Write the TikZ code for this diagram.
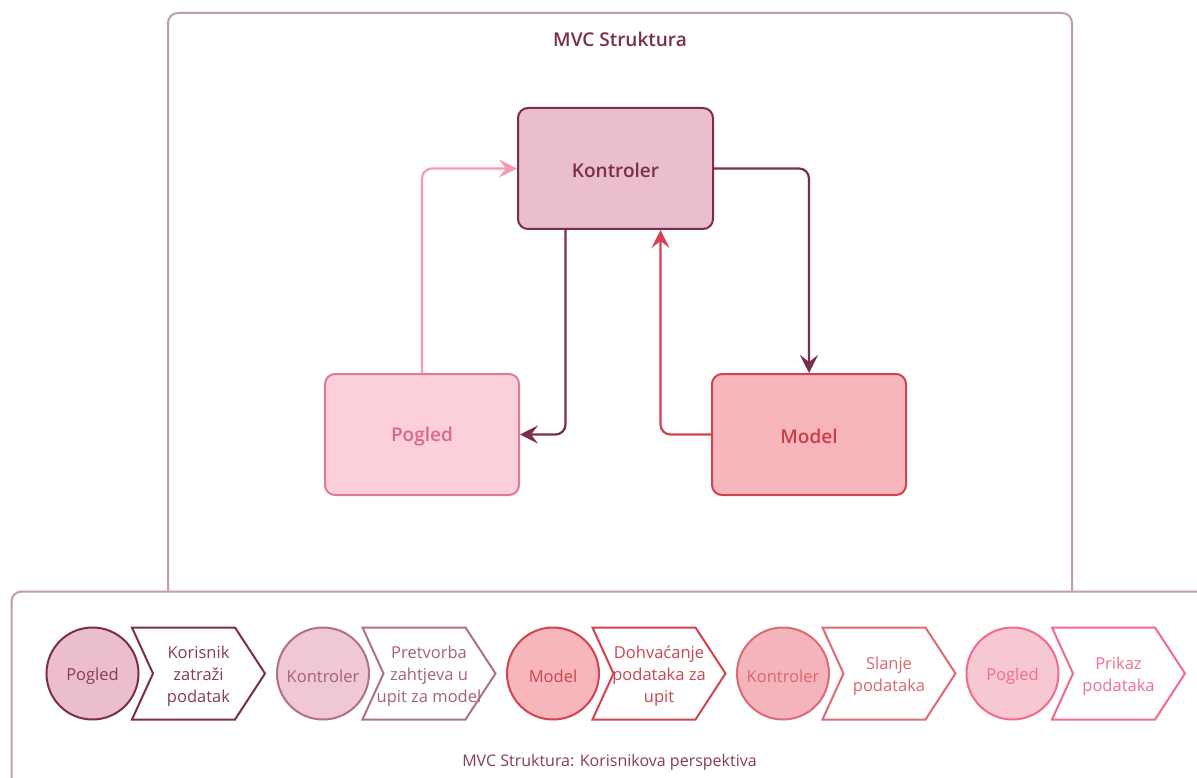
\documentclass[tikz,border=0pt]{standalone}
\usepackage{fontspec}
\setmainfont{Open Sans}
\IfFontExistsTF{Open Sans SemiBold}{\newfontfamily\sbfont{Open Sans SemiBold}}{%
  \IfFontExistsTF{Open Sans Semibold}{\newfontfamily\sbfont{Open Sans Semibold}}{\newcommand\sbfont{\bfseries}}}
\usetikzlibrary{arrows.meta}
\definecolor{dark}{HTML}{7B2D4E}
\definecolor{konfill}{HTML}{EBBECD}
\definecolor{pogfill}{HTML}{FBD0DA}
\definecolor{pogdraw}{HTML}{DE7A95}
\definecolor{pogtext}{HTML}{D9698B}
\definecolor{modfill}{HTML}{F7B6BB}
\definecolor{moddraw}{HTML}{D1434F}
\definecolor{modtext}{HTML}{CC3D48}
\definecolor{pinkarrow}{HTML}{F89AAE}
\definecolor{framecol}{HTML}{C19CAA}
\definecolor{capcol}{HTML}{8A3A5C}
\definecolor{cfA}{HTML}{EBBECD}\definecolor{csA}{HTML}{7B2D4E}\definecolor{ctA}{HTML}{8A3A5C}
\definecolor{cfB}{HTML}{EFC7D5}\definecolor{csB}{HTML}{B0708C}\definecolor{ctB}{HTML}{A4607E}
\definecolor{cfC}{HTML}{F7B6BB}\definecolor{csC}{HTML}{D1434F}\definecolor{ctC}{HTML}{CC4450}
\definecolor{cfD}{HTML}{F3B5BB}\definecolor{csD}{HTML}{DD6A74}\definecolor{ctD}{HTML}{DE6670}
\definecolor{cfE}{HTML}{F6C8D2}\definecolor{csE}{HTML}{F26B8B}\definecolor{ctE}{HTML}{F0708E}
\tikzset{
  frame/.style={draw=framecol, line width=2pt, rounded corners=10pt},
  mbox/.style={rectangle, rounded corners=10pt, line width=2pt, inner sep=0pt,
    minimum width=194pt, minimum height=121pt, font=\fontsize{19}{23}\selectfont\sbfont},
  boxlabel/.style={inner sep=0pt, font=\fontsize{19}{23}\selectfont\sbfont},
  conn/.style={line width=2.2pt, rounded corners=10pt,
    -{Stealth[length=18pt,width=18pt,inset=7pt]}},
  circ/.style={circle, line width=2pt, minimum size=92pt, inner sep=0pt,
    font=\fontsize{16.5}{22}\selectfont},
  chevron/.style={line width=2pt, fill=white, line join=miter},
  chevtext/.style={align=center, inner sep=0pt, font=\fontsize{16.5}{22}\selectfont},
}
\begin{document}
\begin{tikzpicture}[x=1pt,y=-1pt]
\useasboundingbox (0,0) rectangle (1197,778);
\clip (0,0) rectangle (1197,778);
\fill[white] (0,0) rectangle (1197,778);
% top frame
\draw[frame] (168,13) rectangle (1072,650);
\node[font=\fontsize{19}{23}\selectfont\sbfont, text=dark] (title) at (620,39) {MVC Struktura};
% main boxes
\node[mbox, fill=konfill, draw=dark, minimum width=195pt] (kon) at (615.5,168.5) {};
\node[mbox, fill=pogfill, draw=pogdraw] (pog) at (422,434.5) {};
\node[mbox, fill=modfill, draw=moddraw] (mod) at (809,434.5) {};
\node[boxlabel, text=dark] (konl) at (615.5,170.5) {Kontroler};
\node[boxlabel, text=pogtext] (pogl) at (422,436.5) {Pogled};
\node[boxlabel, text=modtext] (modl) at (809,436.5) {Model};
% connectors
\draw[conn, pinkarrow] (pog.north) |- (kon.west);
\draw[conn, dark] ([xshift=-50pt]kon.south) |- (pog.east);
\draw[conn, dark] (kon.east) -| (mod.north);
\draw[conn, moddraw] (mod.west) -| ([xshift=45pt]kon.south);
% bottom frame
\draw[frame, fill=white] (11.5,591.5) rectangle (1260,840);
\node[font=\fontsize{16}{20}\selectfont, text=capcol] (caption) at (609.5,762) {MVC Struktura: Korisnikova perspektiva};
% bottom row
\foreach \i/\cx/\lab/\txt in {
  A/92.5/Pogled/{Korisnik\\zatraži\\podatak},
  B/323/Kontroler/{Pretvorba\\zahtjeva u\\upit za model},
  C/553/Model/{Dohvaćanje\\podataka za\\upit},
  D/783/Kontroler/{Slanje\\podataka},
  E/1012.5/Pogled/{Prikaz\\podataka}}{
  \node[circ, fill=cf\i, draw=cs\i] (c\i) at (\cx,673.5) {};
  \node[inner sep=0pt, font=\fontsize{16.5}{22}\selectfont, text=ct\i] (l\i) at (\cx,676) {\lab};
  \draw[chevron, draw=cs\i] (\cx+39.5,627.5) -- ++(103,0) -- ++(30,46) -- ++(-30,46)
     -- ++(-103,0) -- ++(21,-46) -- cycle;
  \node[chevtext, text=ct\i] (t\i) at (\cx+106,676.5) {\txt};
}
\end{tikzpicture}
\end{document}
